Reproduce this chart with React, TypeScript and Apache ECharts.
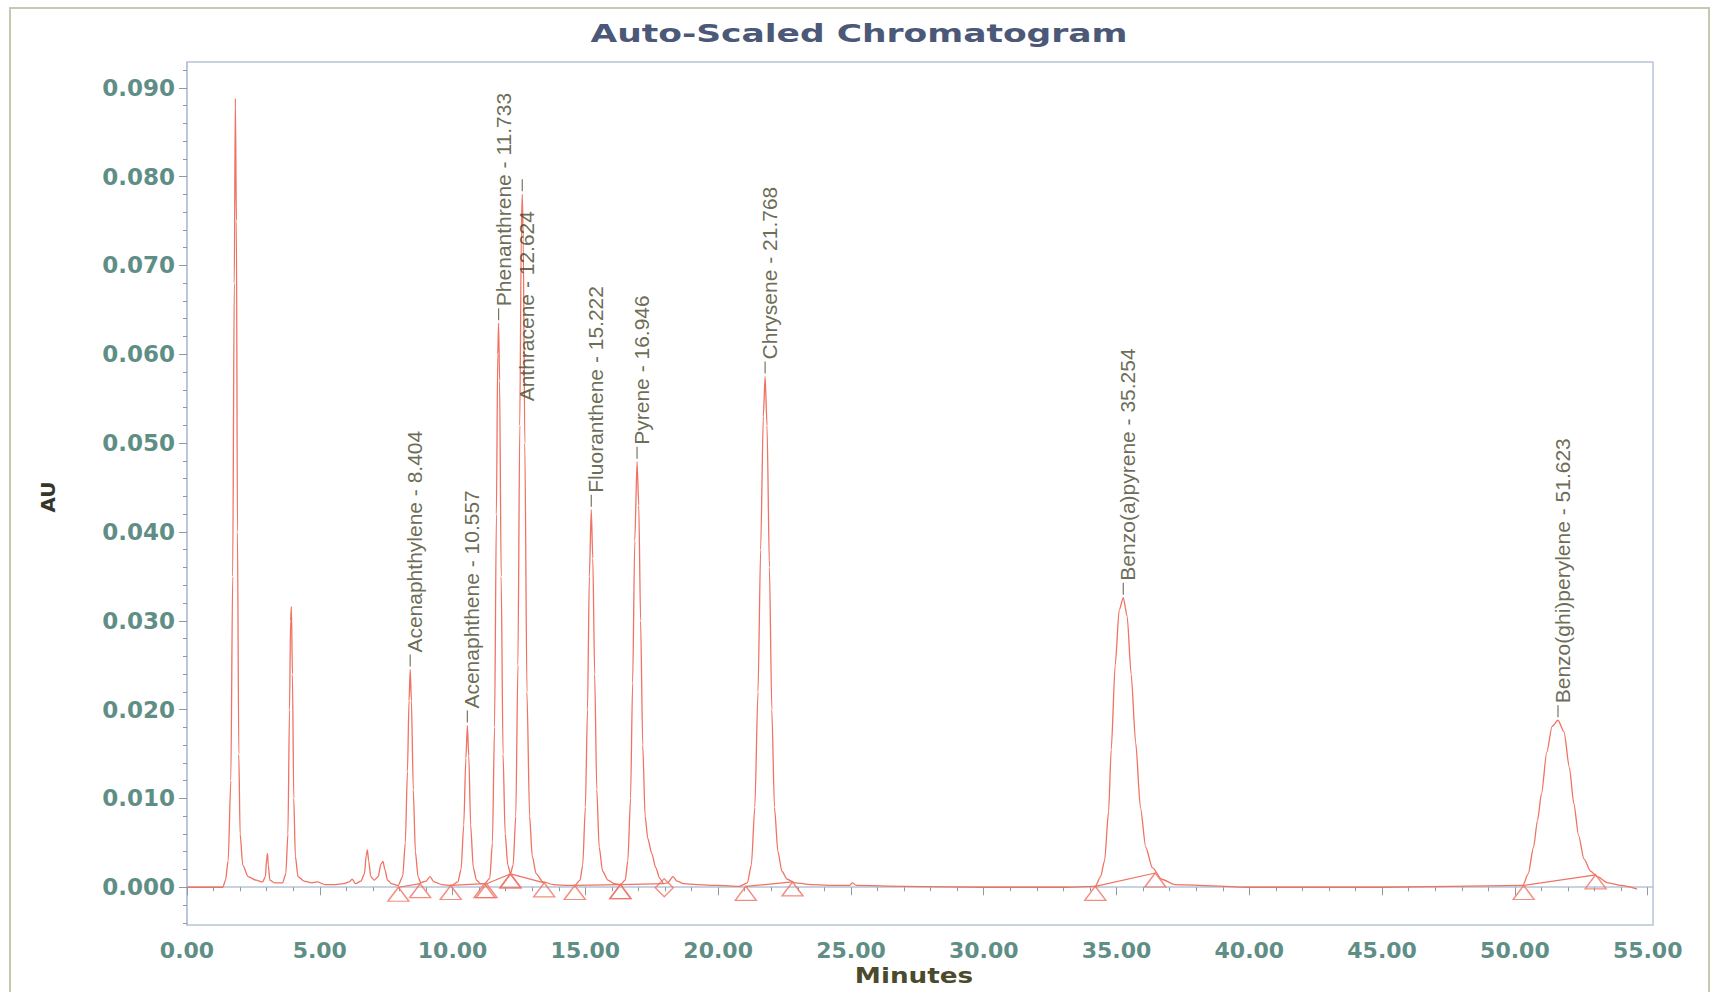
import React, { useEffect, useRef } from "react";
import * as echarts from "echarts";

// Axis ticks (minutes, AU)
const X_TICKS = [0, 5, 10, 15, 20, 25, 30, 35, 40, 45, 50, 55];
const X_MINOR = [1, 2, 3, 4, 6, 7, 8, 9, 11, 12, 13, 14, 16, 17, 18, 19, 21, 22, 23, 24, 26, 27, 28, 29, 31, 32, 33, 34, 36, 37, 38, 39, 41, 42, 43, 44, 46, 47, 48, 49, 51, 52, 53, 54];
const Y_TICKS = [0, 0.01, 0.02, 0.03, 0.04, 0.05, 0.06, 0.07, 0.08, 0.09];
const Y_MINOR = [-0.004, -0.002, 0.002, 0.004, 0.006, 0.008, 0.012, 0.014, 0.016, 0.018, 0.022, 0.024, 0.026, 0.028, 0.032, 0.034, 0.036, 0.038, 0.042, 0.044, 0.046, 0.048, 0.052, 0.054, 0.056, 0.058, 0.062, 0.064, 0.066, 0.068, 0.072, 0.074, 0.076, 0.078, 0.082, 0.084, 0.086, 0.088, 0.092];

// Detector trace: [minutes, AU]
const TRACE_EARLY: [number, number][] = [
  [0, 0], [1.35, 0], [1.45, 0.0008], [1.55, 0.003], [1.65, 0.012], [1.72, 0.035], [1.78, 0.068], [1.82, 0.0888],
  [1.86, 0.075], [1.9, 0.04], [1.95, 0.015], [2.0, 0.006], [2.1, 0.0025], [2.3, 0.0012], [2.6, 0.0008], [2.85, 0.0006],
  [2.95, 0.0012], [3.0, 0.0032], [3.03, 0.0038], [3.06, 0.0025], [3.12, 0.0008], [3.3, 0.0005], [3.6, 0.0005],
  [3.72, 0.0015], [3.8, 0.006], [3.86, 0.02], [3.9, 0.03], [3.93, 0.0316], [3.97, 0.024], [4.02, 0.01], [4.08, 0.0035],
  [4.18, 0.0012], [4.4, 0.0007], [4.7, 0.0005], [4.9, 0.0006], [5.2, 0.0003], [5.6, 0.0003], [5.9, 0.0004], [6.1, 0.0006],
  [6.22, 0.0009], [6.35, 0.0004], [6.55, 0.0007], [6.68, 0.0015], [6.75, 0.0036], [6.79, 0.0042], [6.84, 0.003],
  [6.92, 0.0012], [7.05, 0.0008], [7.2, 0.0012], [7.3, 0.0026], [7.38, 0.0029], [7.45, 0.002], [7.55, 0.0008],
  [7.7, 0.0004], [7.95, 0.0002],
];
const TRACE_PAH1: [number, number][] = [
  [8.12, 0.0012], [8.22, 0.005], [8.3, 0.013], [8.36, 0.021], [8.404, 0.0245], [8.45, 0.021], [8.52, 0.011], [8.6, 0.004],
  [8.7, 0.0012], [8.8, 0.0005], [9.0, 0.0007], [9.15, 0.0012], [9.3, 0.0006], [9.6, 0.0003], [9.95, 0.0002],
  [10.2, 0.0006], [10.32, 0.002], [10.42, 0.007], [10.5, 0.0145], [10.557, 0.0182], [10.61, 0.0148], [10.68, 0.007],
  [10.78, 0.0022], [10.9, 0.0008], [11.05, 0.0004], [11.2, 0.0004],
  [11.4, 0.001], [11.5, 0.005], [11.58, 0.018], [11.65, 0.042], [11.7, 0.06], [11.733, 0.0635], [11.77, 0.057],
  [11.83, 0.035], [11.9, 0.015], [11.98, 0.006], [12.08, 0.0025], [12.18, 0.0015],
  [12.28, 0.0025], [12.38, 0.008], [12.46, 0.025], [12.53, 0.052], [12.59, 0.074], [12.624, 0.078], [12.66, 0.073],
  [12.72, 0.05], [12.8, 0.022], [12.9, 0.008], [13.0, 0.0035], [13.15, 0.0015], [13.4, 0.0006], [13.8, 0.0003],
  [14.3, 0.0002], [14.6, 0.0002],
];
const TRACE_PAH2: [number, number][] = [
  [14.8, 0.0008], [14.9, 0.0025], [15.0, 0.009], [15.08, 0.02], [15.15, 0.035], [15.222, 0.0425], [15.28, 0.037],
  [15.35, 0.024], [15.43, 0.011], [15.52, 0.0045], [15.65, 0.0018], [15.85, 0.0008], [16.1, 0.0004], [16.32, 0.0003],
  [16.5, 0.0008], [16.6, 0.003], [16.7, 0.01], [16.78, 0.023], [16.86, 0.039], [16.946, 0.0479], [17.01, 0.043],
  [17.08, 0.03], [17.16, 0.016], [17.25, 0.008], [17.35, 0.0055], [17.5, 0.0038], [17.65, 0.0022], [17.8, 0.001],
  [17.95, 0.0004], [18.1, 0.0005], [18.3, 0.0012], [18.45, 0.0007], [18.7, 0.0004], [19.2, 0.0003], [20.0, 0.0002],
  [20.8, 0.0001],
  [21.1, 0.0005], [21.25, 0.0025], [21.38, 0.009], [21.5, 0.022], [21.6, 0.038], [21.7, 0.053], [21.768, 0.0575],
  [21.84, 0.052], [21.93, 0.036], [22.02, 0.02], [22.12, 0.009], [22.25, 0.004], [22.4, 0.0018], [22.6, 0.0009],
  [22.9, 0.0005], [23.5, 0.0003], [24.5, 0.0002], [24.95, 0.0002], [25.05, 0.0005], [25.2, 0.0002], [27, 0.0001],
  [30, 0], [33, 0], [34.2, 0.0001],
];
const TRACE_LATE: [number, number][] = [
  [34.4, 0.0012], [34.55, 0.003], [34.7, 0.0085], [34.8, 0.0155], [34.95, 0.025], [35.1, 0.0312], [35.254, 0.0326],
  [35.4, 0.0305], [35.55, 0.024], [35.72, 0.0163], [35.9, 0.009], [36.1, 0.0045], [36.35, 0.0022], [36.7, 0.0009],
  [37.2, 0.0003], [40, 0], [45, 0], [50.3, 0.0002],
  [50.5, 0.0015], [50.7, 0.0045], [50.85, 0.0075], [51.0, 0.0105], [51.2, 0.0152], [51.4, 0.0181], [51.623, 0.0188],
  [51.85, 0.0175], [52.05, 0.0135], [52.22, 0.0094], [52.4, 0.0058], [52.6, 0.0032], [52.85, 0.0018], [53.1, 0.0012],
  [53.5, 0.0005], [54.0, 0.0002], [54.6, -0.0002],
];

// Named peaks: retention time (min) and apex height (AU)
const PEAK_NAMES = ["Acenaphthylene", "Acenaphthene", "Phenanthrene", "Anthracene", "Fluoranthene", "Pyrene", "Chrysene", "Benzo(a)pyrene", "Benzo(ghi)perylene"];
const PEAK_RT = [8.404, 10.557, 11.733, 12.624, 15.222, 16.946, 21.768, 35.254, 51.623];
const PEAK_AU = [0.0245, 0.0182, 0.0635, 0.078, 0.0425, 0.0479, 0.0575, 0.0326, 0.0188];

// Integration start/end points for each peak: [start min, start AU, end min, end AU]
const INTEGRATION: [number, number, number, number][] = [
  [7.96, 0, 8.78, 0.0004],
  [9.93, 0.0002, 11.2, 0.0004],
  [11.28, 0.0004, 12.18, 0.0015],
  [12.18, 0.0015, 13.45, 0.0005],
  [14.6, 0.0002, 16.32, 0.0003],
  [16.32, 0.0003, 17.97, 0.0004],
  [21.04, 0.0001, 22.8, 0.0006],
  [34.2, 0.0001, 36.46, 0.0016],
  [50.33, 0.0002, 53.04, 0.0014],
];

const TRACE_COLOR = "#ef7263";
const AXIS_LINE = "#b6c3d6";
const TICK_TEXT = "#5f8e86";
const NAME_TEXT = "#46462a";

export default function App() {
  const ref = useRef<HTMLDivElement>(null);

  useEffect(() => {
    if (!ref.current) return;
    const chart = echarts.init(ref.current, undefined, { renderer: "svg" });

    const trace = [...TRACE_EARLY, ...TRACE_PAH1, ...TRACE_PAH2, ...TRACE_LATE];

    // Start markers are triangles; the pyrene end is flagged with a diamond
    const triangles: [number, number][] = [];
    const diamonds: [number, number][] = [];
    INTEGRATION.forEach(([t0, a0, t1, a1], i) => {
      triangles.push([t0, a0]);
      if (PEAK_NAMES[i] === "Pyrene") diamonds.push([t1, a1]);
      else triangles.push([t1, a1]);
    });

    const baselineSeries = INTEGRATION.map(([t0, a0, t1, a1]) => ({
      type: "line",
      data: [[t0, a0], [t1, a1]],
      showSymbol: false,
      silent: true,
      lineStyle: { color: TRACE_COLOR, width: 1.2 },
      z: 2,
    }));

    // Anthracene's name is pushed down beside its peak so it clears the top of the plot
    const labelData = PEAK_NAMES.map((name, i) => ({
      name,
      value: [PEAK_RT[i], PEAK_AU[i]],
      label: name === "Anthracene" ? { position: [5, 222] } : { position: [5, -2] },
    }));

    const yFmt = (v: number) => v.toFixed(3);
    const xFmt = (v: number) => v.toFixed(2);

    const xMin = 0;
    const xMax = 55.2;
    const yMin = -0.00425;
    const yMax = 0.0929;

    chart.setOption({
      animation: false,
      backgroundColor: "#ffffff",
      grid: {
        left: 187,
        right: 58,
        top: 62,
        bottom: 67,
        show: true,
        borderColor: AXIS_LINE,
        borderWidth: 1.5,
      },
      xAxis: [
        {
          type: "value",
          position: "bottom",
          min: xMin,
          max: xMax,
          axisLine: { show: true, lineStyle: { color: AXIS_LINE, width: 1.5 } },
          axisTick: { show: true, customValues: X_TICKS, length: 8, lineStyle: { color: "#8c9aa6" } },
          axisLabel: {
            customValues: X_TICKS,
            formatter: xFmt,
            margin: 14,
            color: TICK_TEXT,
            fontFamily: "DejaVu Sans",
            fontWeight: "bold",
            fontSize: 22,
          },
          splitLine: { show: false },
        },
        {
          type: "value",
          position: "bottom",
          min: xMin,
          max: xMax,
          axisLine: { show: false },
          axisTick: { show: true, customValues: X_MINOR, length: 4, lineStyle: { color: "#8c9aa6" } },
          axisLabel: { show: false },
          splitLine: { show: false },
        },
      ],
      yAxis: [
        {
          type: "value",
          position: "left",
          min: yMin,
          max: yMax,
          axisLine: { show: true, lineStyle: { color: AXIS_LINE, width: 1.5 } },
          axisTick: { show: true, customValues: Y_TICKS, length: 8, lineStyle: { color: "#8c9aa6" } },
          axisLabel: {
            customValues: Y_TICKS,
            formatter: yFmt,
            margin: 12,
            color: TICK_TEXT,
            fontFamily: "DejaVu Sans",
            fontWeight: "bold",
            fontSize: 23,
          },
          splitLine: { show: false },
        },
        {
          type: "value",
          position: "left",
          min: yMin,
          max: yMax,
          axisLine: { show: false },
          axisTick: { show: true, customValues: Y_MINOR, length: 4, lineStyle: { color: "#8c9aa6" } },
          axisLabel: { show: false },
          splitLine: { show: false },
        },
      ],
      graphic: [
        {
          type: "rect",
          shape: { x: 10, y: 8, width: 1699, height: 990 },
          style: { fill: "none", stroke: "#c6c8b2", lineWidth: 2 },
          silent: true,
        },
        {
          type: "text",
          x: 859,
          y: 33,
          scaleX: 1.38,
          style: {
            text: "Auto-Scaled Chromatogram",
            fill: "#4b5877",
            fontFamily: "DejaVu Sans",
            fontWeight: "bold",
            fontSize: 25,
            align: "center",
            verticalAlign: "middle",
          },
        },
        {
          type: "text",
          x: 914,
          y: 976,
          scaleX: 1.25,
          style: {
            text: "Minutes",
            fill: "#4b4a2c",
            fontFamily: "DejaVu Sans",
            fontWeight: "bold",
            fontSize: 21,
            align: "center",
            verticalAlign: "middle",
          },
        },
        {
          type: "text",
          x: 48,
          y: 497,
          rotation: Math.PI / 2,
          style: {
            text: "AU",
            fill: "#35352a",
            fontFamily: "DejaVu Sans",
            fontWeight: "bold",
            fontSize: 20,
            align: "center",
            verticalAlign: "middle",
          },
        },
      ],
      series: [
        ...baselineSeries,
        {
          type: "line",
          data: trace,
          showSymbol: false,
          smooth: 0.25,
          smoothMonotone: "x",
          silent: true,
          lineStyle: { color: TRACE_COLOR, width: 1.3 },
          z: 3,
        },
        {
          type: "scatter",
          data: triangles,
          symbol: "triangle",
          symbolSize: [21, 14],
          symbolOffset: [0, "50%"],
          silent: true,
          itemStyle: { color: "rgba(255,255,255,0)", borderColor: TRACE_COLOR, borderWidth: 1.4 },
          z: 4,
        },
        {
          type: "scatter",
          data: diamonds,
          symbol: "diamond",
          symbolSize: [18, 18],
          symbolOffset: [0, 4],
          silent: true,
          itemStyle: { color: "rgba(255,255,255,0)", borderColor: TRACE_COLOR, borderWidth: 1.4 },
          z: 4,
        },
        {
          type: "scatter",
          data: labelData,
          symbol: "rect",
          symbolSize: [1.2, 12],
          symbolOffset: [0, -9],
          silent: true,
          itemStyle: { color: "#55553a" },
          label: {
            show: true,
            rotate: 90,
            align: "left",
            verticalAlign: "middle",
            fontFamily: "Liberation Sans",
            fontSize: 21,
            color: NAME_TEXT,
            formatter: (p: any) => `${p.name} - ${p.value[0].toFixed(3)}`,
          },
          labelLayout: { hideOverlap: false },
          z: 5,
        },
      ],
    });

    return () => chart.dispose();
  }, []);

  return (
    <div
      ref={ref}
      style={{ position: "fixed", left: 0, top: 0, width: 1711, height: 992, background: "#fff" }}
    />
  );
}
